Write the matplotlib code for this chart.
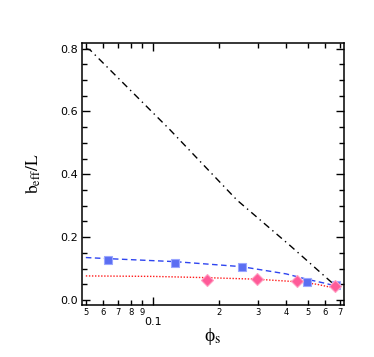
import matplotlib
matplotlib.use('Agg')
import matplotlib.pyplot as plt
import matplotlib.ticker as ticker

plt.rcParams['mathtext.fontset'] = 'stix'

# data
black_x = [0.05, 0.0522, 0.12, 0.24, 0.42, 0.68]
black_y = [0.80, 0.796, 0.541, 0.318, 0.171, 0.040]

blue_curve_x = [0.05, 0.063, 0.126, 0.252, 0.40, 0.496, 0.60, 0.69]
blue_curve_y = [0.135, 0.1315, 0.122, 0.106, 0.083, 0.066, 0.053, 0.042]

red_curve_x = [0.05, 0.10, 0.175, 0.295, 0.447, 0.55, 0.68]
red_curve_y = [0.0765, 0.075, 0.071, 0.066, 0.058, 0.050, 0.036]

square_x = [0.0631, 0.126, 0.252, 0.496, 0.67]
square_y = [0.127, 0.119, 0.106, 0.058, 0.047]

diamond_x = [0.175, 0.295, 0.447, 0.665]
diamond_y = [0.064, 0.066, 0.060, 0.045]

x_minor = [0.05, 0.06, 0.07, 0.08, 0.09, 0.2, 0.3, 0.4, 0.5, 0.6, 0.7]
x_minor_labels = ['5', '6', '7', '8', '9', '2', '3', '4', '5', '6', '7']
x_major = [0.1]
x_major_labels = ['0.1']
y_major = [0.0, 0.2, 0.4, 0.6, 0.8]

fig = plt.figure(figsize=(3.74, 3.57), dpi=100)
ax = fig.add_axes([0.219, 0.1457, 0.701, 0.734])

ax.plot(black_x, black_y, color='black', lw=1.0, linestyle=(0, (5, 3, 1, 3)))
ax.plot(blue_curve_x, blue_curve_y, color='#2f45f0', lw=1.0, linestyle=(0, (4, 2.5)))
ax.plot(red_curve_x, red_curve_y, color='#ff1a1a', lw=1.0, linestyle=(0, (1, 1.2)))
ax.plot(square_x, square_y, 's', ms=6, color='#5b6ef2', mec='#9aa6ff', mew=0.8)
ax.plot(diamond_x, diamond_y, 'D', ms=6, color='#ff5a98', mec='#ff9ec2', mew=0.8)

ax.set_xscale('log')
ax.set_xlim(0.048, 0.73)
ax.set_ylim(-0.016, 0.818)

ax.xaxis.set_major_locator(ticker.FixedLocator(x_major))
ax.xaxis.set_major_formatter(ticker.FixedFormatter(x_major_labels))
ax.xaxis.set_minor_locator(ticker.FixedLocator(x_minor))
ax.xaxis.set_minor_formatter(ticker.FixedFormatter(x_minor_labels))
ax.yaxis.set_major_locator(ticker.FixedLocator(y_major))
ax.yaxis.set_major_formatter(ticker.FormatStrFormatter('%.1f'))
ax.yaxis.set_minor_locator(ticker.MultipleLocator(0.05))

ax.tick_params(which='both', direction='in', top=True, right=True, width=1.0)
ax.tick_params(axis='y', which='major', length=6, labelsize=8, pad=3)
ax.tick_params(axis='y', which='minor', length=3.5)
ax.tick_params(axis='x', which='major', length=6, labelsize=8, pad=9)
ax.tick_params(axis='x', which='minor', length=3.5, labelsize=6, pad=2.5)
for s in ax.spines.values():
    s.set_linewidth(1.1)

ax.set_ylabel(r'$\mathrm{b_{eff}/L}$', fontsize=12.5, labelpad=12)
ax.set_xlabel('\u03d5$_\\mathrm{s}$', fontsize=14, labelpad=-1,
              family=['Liberation Serif', 'DejaVu Serif'])

fig.savefig('out.png', dpi=100)
